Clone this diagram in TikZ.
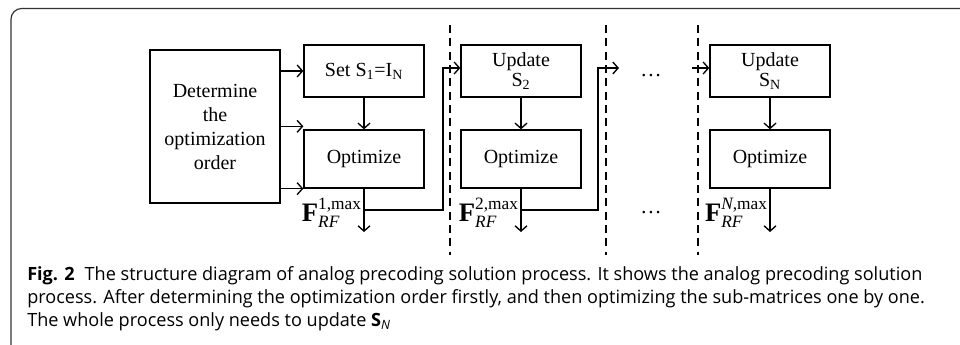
\documentclass[tikz,border=0pt]{standalone}
\usepackage{amsmath}
\usepackage{fontspec}
\setmainfont{Liberation Serif}
\newfontfamily\capfont[FakeStretch=0.99]{Open Sans}
\usetikzlibrary{positioning,arrows.meta}

\newcommand{\Frf}[1]{$\textbf{F}^{\text{\fontsize{13}{13}\selectfont #1,max}}_{\text{\fontsize{13}{13}\selectfont\itshape RF}}$}

\tikzset{
	blk/.style={draw,line width=1pt,minimum width=90pt,align=center,inner sep=2pt,font=\fontsize{15}{15}\selectfont},
	flow/.style={line width=1pt,-{Straight Barb[length=4pt,width=9pt]}},
	sep/.style={line width=0.9pt,dash pattern=on 6pt off 4pt},
	flab/.style={anchor=east,inner sep=0pt,font=\fontsize{20}{20}\selectfont},
}

\begin{document}
\begin{tikzpicture}[x=0.75pt,y=-0.75pt]
	\useasboundingbox (0,0) rectangle (960,345);
	\draw[gray!40!black,line width=0.9pt,rounded corners=8pt] (11,352) -- (11,8.5) -- (975,8.5);

	\node[blk,minimum width=97.5pt,minimum height=114.75pt,font=\fontsize{15}{18}\selectfont] (order) at (215,126.5) {Determine\\the\\optimization\\order};
	\node[blk,minimum height=39pt] (set1) at (364,71) {Set S\textsubscript{1}=I\textsubscript{N}};
	\node[blk,minimum height=43.5pt] (opt1) at (364,159) {Optimize};
	\node[blk,minimum height=39pt] (upd2) at (521,71) {Update\\S\textsubscript{2}};
	\node[blk,minimum height=43.5pt] (opt2) at (521,159) {Optimize};
	\node[blk,minimum height=39pt] (updN) at (770,71) {Update\\S\textsubscript{N}};
	\node[blk,minimum height=43.5pt] (optN) at (770,159) {Optimize};

	% separators
	\foreach \x in {450,606,698}
		\draw[sep] (\x,25) -- (\x,255);
	\node[font=\fontsize{16}{16}\selectfont] (dtop) at (651,76) {\dots};
	\node[font=\fontsize{16}{16}\selectfont] (dbot) at (651,213) {\dots};

	\coordinate (out1) at (364,232);
	\coordinate (out2) at (521,232);
	\coordinate (outN) at (770,232);
	\coordinate (tap1) at (364,210);
	\coordinate (tap2) at (521,210);
	\coordinate (bend1) at (443,68);
	\coordinate (bend2) at (598,68);
	\coordinate (gap2) at (619,68);
	\coordinate (inN) at (692,68);

	\draw[flow] (order.east |- set1) -- (set1.west);
	\draw[flow] ([yshift=2.25pt]order.east |- opt1.north) -- ([yshift=2.25pt]opt1.north west);
	\draw[flow] (order.east |- opt1.south) -- (opt1.south west);
	\draw[flow] (set1) -- (opt1);
	\draw[flow] (upd2) -- (opt2);
	\draw[flow] (updN) -- (optN);
	\draw[flow] (opt1) -- (out1);
	\draw[flow] (opt2) -- (out2);
	\draw[flow] (optN) -- (outN);
	\draw[flow] (tap1) -| (bend1) -- (upd2.west |- bend1);
	\draw[flow] (tap2) -| (bend2) -- (gap2);
	\draw[flow] (inN) -- (updN.west |- inN);

	\node[flab] (f1) at (362,213) {\Frf{1}};
	\node[flab] (f2) at (519,213) {\Frf{2}};
	\node[flab] (fN) at (768,213) {\Frf{\textit{N}}};

	\node[anchor=north west,inner sep=0pt,align=left,font=\capfont\fontsize{13.7}{14.3}\selectfont] (cap) at (27,266)
		{\textbf{Fig. 2}\hspace{0.55em}The structure diagram of analog precoding solution process. It shows the analog precoding solution\\[3pt]
		process. After determining the optimization order firstly, and then optimizing the sub-matrices one by one.\\[3pt]
		The whole process only needs to update {\bfseries S}\textsubscript{\itshape N}};
\end{tikzpicture}
\end{document}
